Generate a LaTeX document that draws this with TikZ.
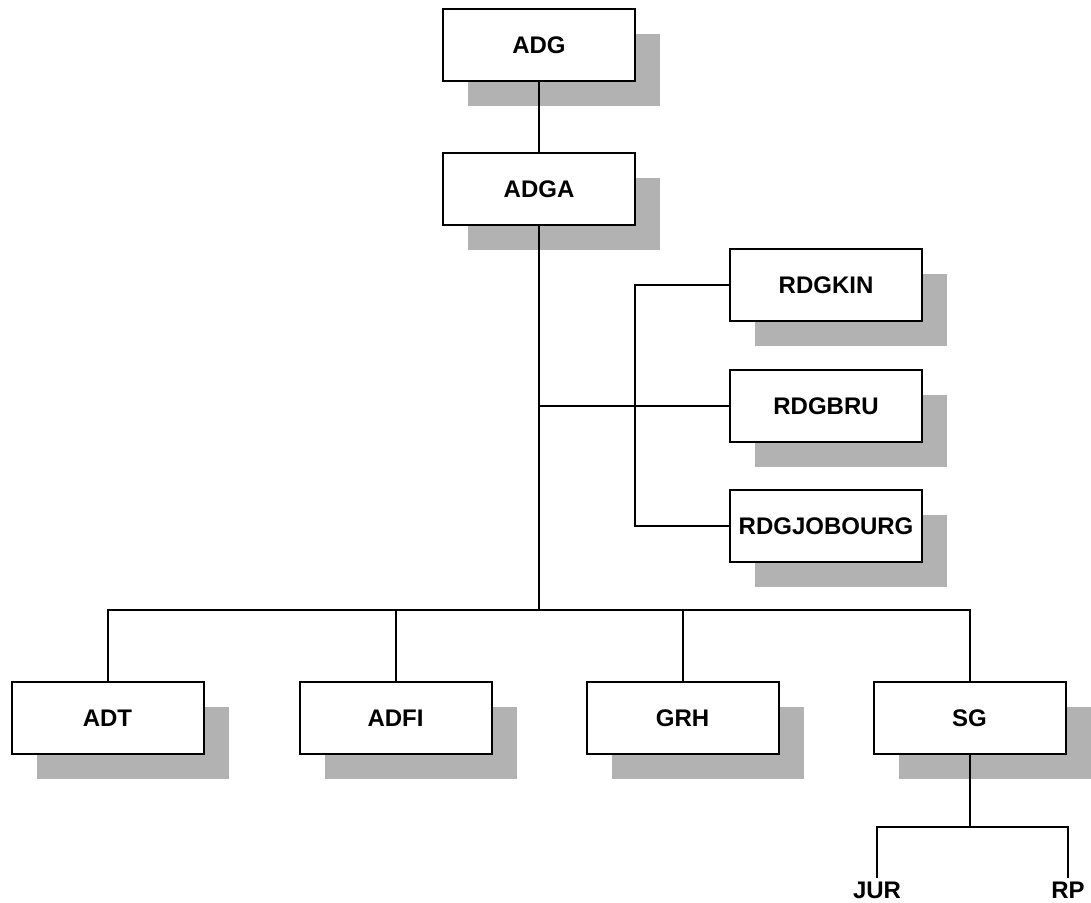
\documentclass[tikz,border=0pt]{standalone}
\usepackage{fontspec}
\setmainfont{Liberation Sans}
\usetikzlibrary{shadows}
\definecolor{shade}{RGB}{178,178,178}
\tikzset{
  unit/.style={draw=black,fill=white,line width=1pt,minimum width=96pt,
    minimum height=36pt,inner sep=0pt,font=\fontsize{12}{14}\selectfont\bfseries,
    drop shadow={shadow xshift=12.5pt,shadow yshift=-12.5pt,fill=shade,opacity=1}},
  leaf/.style={inner sep=2pt,anchor=north,font=\fontsize{12}{14}\selectfont\bfseries},
  wire/.style={draw=black,line width=1pt},
}

\begin{document}
\begin{tikzpicture}[x=0.5pt,y=-0.5pt]
  \useasboundingbox (0,0) rectangle (1091,903);
  % top of the chart
  \node[unit] (adg) at (539,45) {ADG};
  \node[unit] (adga) at (539,189) {ADGA};
  % regional units
  \foreach \n/\t/\y in {rdgkin/RDGKIN/285,rdgbru/RDGBRU/406,rdgjob/RDGJOBOURG/526}
    \node[unit] (\n) at (826,\y) {\t};
  % departments
  \foreach \n/\t/\x in {adt/ADT/107.5,adfi/ADFI/395.5,grh/GRH/682.5,sg/SG/969.5}
    \node[unit] (\n) at (\x,718) {\t};
  \node[leaf] (jur) at (877,878) {JUR};
  \node[leaf] (rp) at (1068,878) {RP};
  \coordinate (bus) at (539,610);
  \coordinate (fork) at (635,406);
  \coordinate (tap) at (adga.south |- rdgbru.west);
  \coordinate (sgsplit) at (969.5,827);
  % connectors
  \draw[wire] (adg) -- (adga);
  \draw[wire] (adga.south) -- (bus);
  \foreach \n in {adt,adfi,grh,sg}
    \draw[wire] (bus) -| (\n.north);
  \draw[wire] (tap) -- (rdgbru.west);
  \draw[wire] (fork) |- (rdgkin.west);
  \draw[wire] (fork) |- (rdgjob.west);
  \draw[wire] (sg.south) -- (sgsplit);
  \draw[wire] (sgsplit) -| (jur.north);
  \draw[wire] (sgsplit) -| (rp.north);
\end{tikzpicture}
\end{document}
